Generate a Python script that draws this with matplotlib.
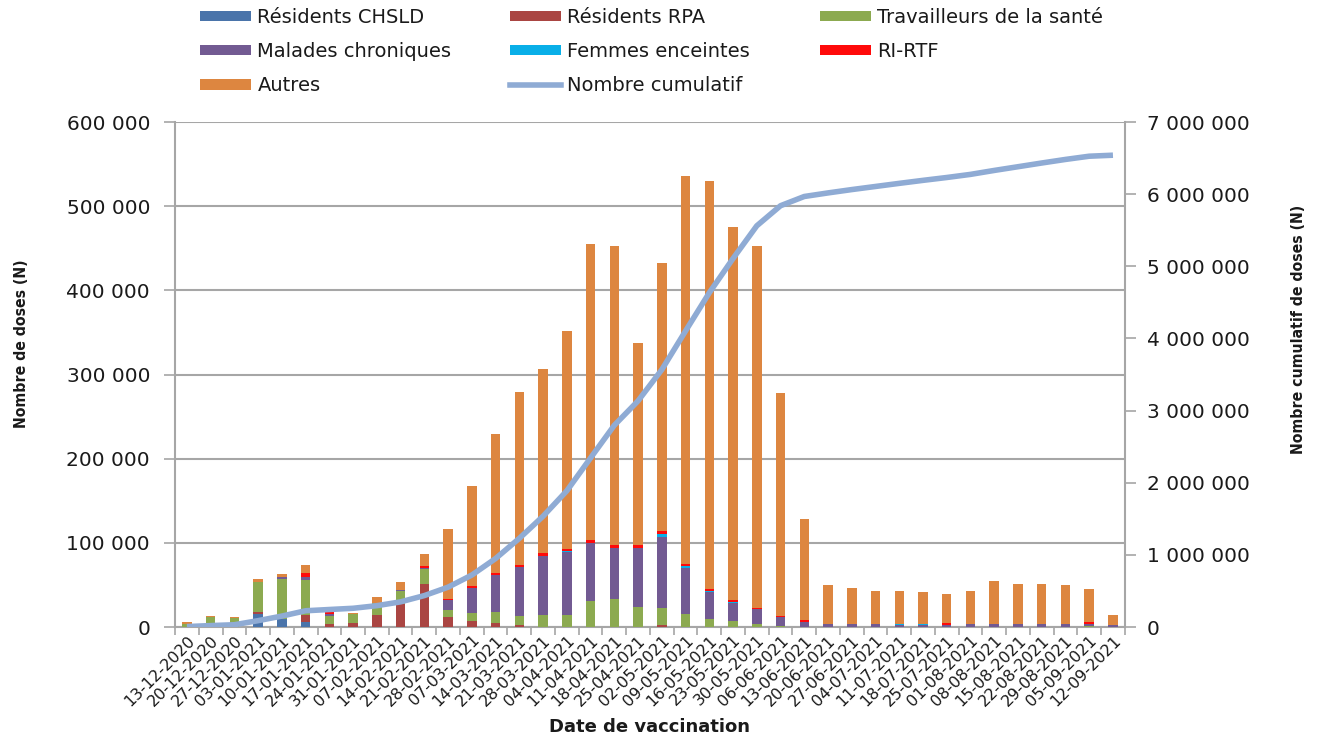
import numpy as np
import matplotlib
matplotlib.use("Agg")
import matplotlib.pyplot as plt
from matplotlib.ticker import FuncFormatter, MultipleLocator
from matplotlib.lines import Line2D
from matplotlib.patches import Patch

# Weekly vaccination dates
dates = ["13-12-2020", "20-12-2020", "27-12-2020", "03-01-2021", "10-01-2021",
         "17-01-2021", "24-01-2021", "31-01-2021", "07-02-2021", "14-02-2021",
         "21-02-2021", "28-02-2021", "07-03-2021", "14-03-2021", "21-03-2021",
         "28-03-2021", "04-04-2021", "11-04-2021", "18-04-2021", "25-04-2021",
         "02-05-2021", "09-05-2021", "16-05-2021", "23-05-2021", "30-05-2021",
         "06-06-2021", "13-06-2021", "20-06-2021", "27-06-2021", "04-07-2021",
         "11-07-2021", "18-07-2021", "25-07-2021", "01-08-2021", "08-08-2021",
         "15-08-2021", "22-08-2021", "29-08-2021", "05-09-2021", "12-09-2021"]

# Doses per group and week
chsld = [0, 0, 0, 16000, 9100, 6000, 0, 0, 0, 0,
         0, 0, 0, 0, 0, 0, 0, 0, 0, 0,
         0, 0, 0, 0, 0, 0, 0, 0, 0, 0,
         0, 0, 0, 0, 0, 0, 0, 0, 0, 0]
rpa = [0, 0, 0, 2000, 0, 8000, 4000, 5000, 14000, 27800,
       51600, 11900, 7100, 4400, 2400, 0, 0, 0, 0, 0,
       2000, 0, 0, 0, 0, 0, 0, 0, 0, 0,
       0, 0, 0, 0, 0, 0, 0, 0, 0, 0]
travailleurs = [4000, 12000, 10300, 35000, 48300, 41600, 9500, 11000, 14000, 15000,
                17000, 8700, 10000, 13000, 10700, 13900, 13900, 30900, 32900, 24200,
                20200, 15800, 9100, 7500, 3600, 1600, 0, 0, 0, 0,
                0, 0, 0, 0, 0, 0, 0, 0, 1500, 0]
malades = [0, 0, 0, 0, 2000, 4000, 1600, 0, 0, 1600,
           2000, 12000, 29300, 44300, 58200, 70900, 74800, 69300, 61000, 69700,
           85100, 54300, 32100, 20600, 17500, 10000, 6300, 4000, 4000, 4000,
           2000, 2000, 2000, 4000, 4000, 4000, 4000, 4000, 2000, 2000]
enceintes = [0, 0, 0, 0, 0, 0, 0, 0, 0, 0,
             0, 0, 0, 0, 0, 0, 2000, 0, 0, 0,
             3600, 2000, 2000, 2000, 0, 0, 0, 0, 0, 0,
             2000, 2000, 0, 0, 0, 0, 0, 0, 0, 0]
ri_rtf = [0, 0, 0, 0, 0, 4000, 2400, 0, 0, 0,
          1600, 1200, 2000, 3000, 2000, 3000, 2000, 3600, 3200, 3200,
          3200, 3200, 2000, 1600, 1600, 1600, 1600, 0, 0, 0,
          0, 0, 2400, 0, 0, 0, 0, 0, 2400, 0]
autres = [2000, 1600, 1600, 3600, 4000, 10000, 0, 1000, 8000, 8700,
          14700, 83000, 119600, 164200, 206300, 219100, 259300, 351800, 355900, 240900,
          318900, 460700, 484800, 443300, 430300, 265200, 120100, 45500, 42300, 39100,
          39100, 37600, 35200, 39200, 50700, 47500, 47500, 45500, 38800, 11900]

series = [
    ("Résidents CHSLD", chsld, "#4A74AA"),
    ("Résidents RPA", rpa, "#AA4542"),
    ("Travailleurs de la santé", travailleurs, "#8CAA50"),
    ("Malades chroniques", malades, "#725A92"),
    ("Femmes enceintes", enceintes, "#09AFE8"),
    ("RI-RTF", ri_rtf, "#FF0A0A"),
    ("Autres", autres, "#DD8640"),
]
line_color = "#8FABD4"

fig = plt.figure(figsize=(13.21, 7.40), dpi=100)
ax = fig.add_axes([0.1325, 0.1527, 0.719, 0.6824])
ax2 = ax.twinx()

x = np.arange(len(dates))
bottom = np.zeros(len(dates))
handles = {}
for name, vals, col in series:
    v = np.array(vals, dtype=float)
    ax.bar(x, v, width=0.4, bottom=bottom, color=col, edgecolor="none", zorder=3)
    handles[name] = Patch(facecolor=col, edgecolor="none")
    bottom += v

total = bottom
cumul = np.cumsum(total)
ax2.plot(x, cumul, color=line_color, linewidth=4, solid_capstyle="butt", zorder=4)
handles["Nombre cumulatif"] = Line2D([], [], color=line_color, linewidth=4)

ax.set_xlim(-0.5, len(dates) - 0.5)
ax.set_ylim(0, 600000)
ax2.set_ylim(0, 7000000)
ax.yaxis.set_major_locator(MultipleLocator(100000))
ax2.yaxis.set_major_locator(MultipleLocator(1000000))


def spaced(v, pos):
    return f"{int(round(v)):,}".replace(",", " ")


ax.yaxis.set_major_formatter(FuncFormatter(spaced))
ax2.yaxis.set_major_formatter(FuncFormatter(spaced))

grid_col = "#A6A6A6"
ax.grid(axis="y", color=grid_col, linewidth=1.5, zorder=0)
ax.set_axisbelow(True)
for a in (ax, ax2):
    for s in a.spines.values():
        s.set_visible(False)
for a, side in ((ax, "left"), (ax, "bottom"), (ax2, "right")):
    a.spines[side].set_visible(True)
    a.spines[side].set_color(grid_col)
    a.spines[side].set_linewidth(1.5)

text_col = "#1A1A1A"
ax.tick_params(axis="y", direction="out", length=8, width=1.2, color=grid_col,
               labelsize=14.5, labelcolor=text_col, pad=10)
ax2.tick_params(axis="y", direction="out", length=8, width=1.2, color=grid_col,
                labelsize=14.5, labelcolor=text_col, pad=8)

# category separators as major ticks, date labels centred under each bar
ax.set_xticks(np.arange(len(dates) + 1) - 0.5)
ax.set_xticklabels([])
ax.tick_params(axis="x", direction="out", length=6, width=1.2, color=grid_col)
ax.set_xticks(x, minor=True)
ax.set_xticklabels(dates, minor=True, rotation=45, ha="right",
                   rotation_mode="anchor", fontsize=11.5, color=text_col)
ax.tick_params(axis="x", which="minor", length=0, pad=4)

fig.text(0.016, 0.535, "Nombre de doses (N)", rotation=90, ha="center", va="center",
         fontsize=11.3, fontweight="bold", fontstretch="condensed", color=text_col)
fig.text(0.983, 0.555, "Nombre cumulatif de doses (N)", rotation=90, ha="center",
         va="center", fontsize=11.3, fontweight="bold", fontstretch="condensed",
         color=text_col)
fig.text(0.492, 0.018, "Date de vaccination", ha="center", va="center",
         fontsize=13, fontweight="bold", color=text_col)

# legend laid out as three columns placed at fixed positions
columns = [["Résidents CHSLD", "Malades chroniques", "Autres"],
           ["Résidents RPA", "Femmes enceintes", "Nombre cumulatif"],
           ["Travailleurs de la santé", "RI-RTF"]]
col_x = [200, 510, 820]
for names, px in zip(columns, col_x):
    leg = fig.legend([handles[n] for n in names], names, loc="upper left",
                     bbox_to_anchor=(px / 1321, 1 - 8 / 740), frameon=False,
                     fontsize=14, handlelength=2.6, handleheight=0.45,
                     handletextpad=0.35, labelspacing=0.78, borderpad=0,
                     borderaxespad=0)
    for t in leg.get_texts():
        t.set_color(text_col)

fig.savefig("out.png", dpi=100, facecolor="white")
